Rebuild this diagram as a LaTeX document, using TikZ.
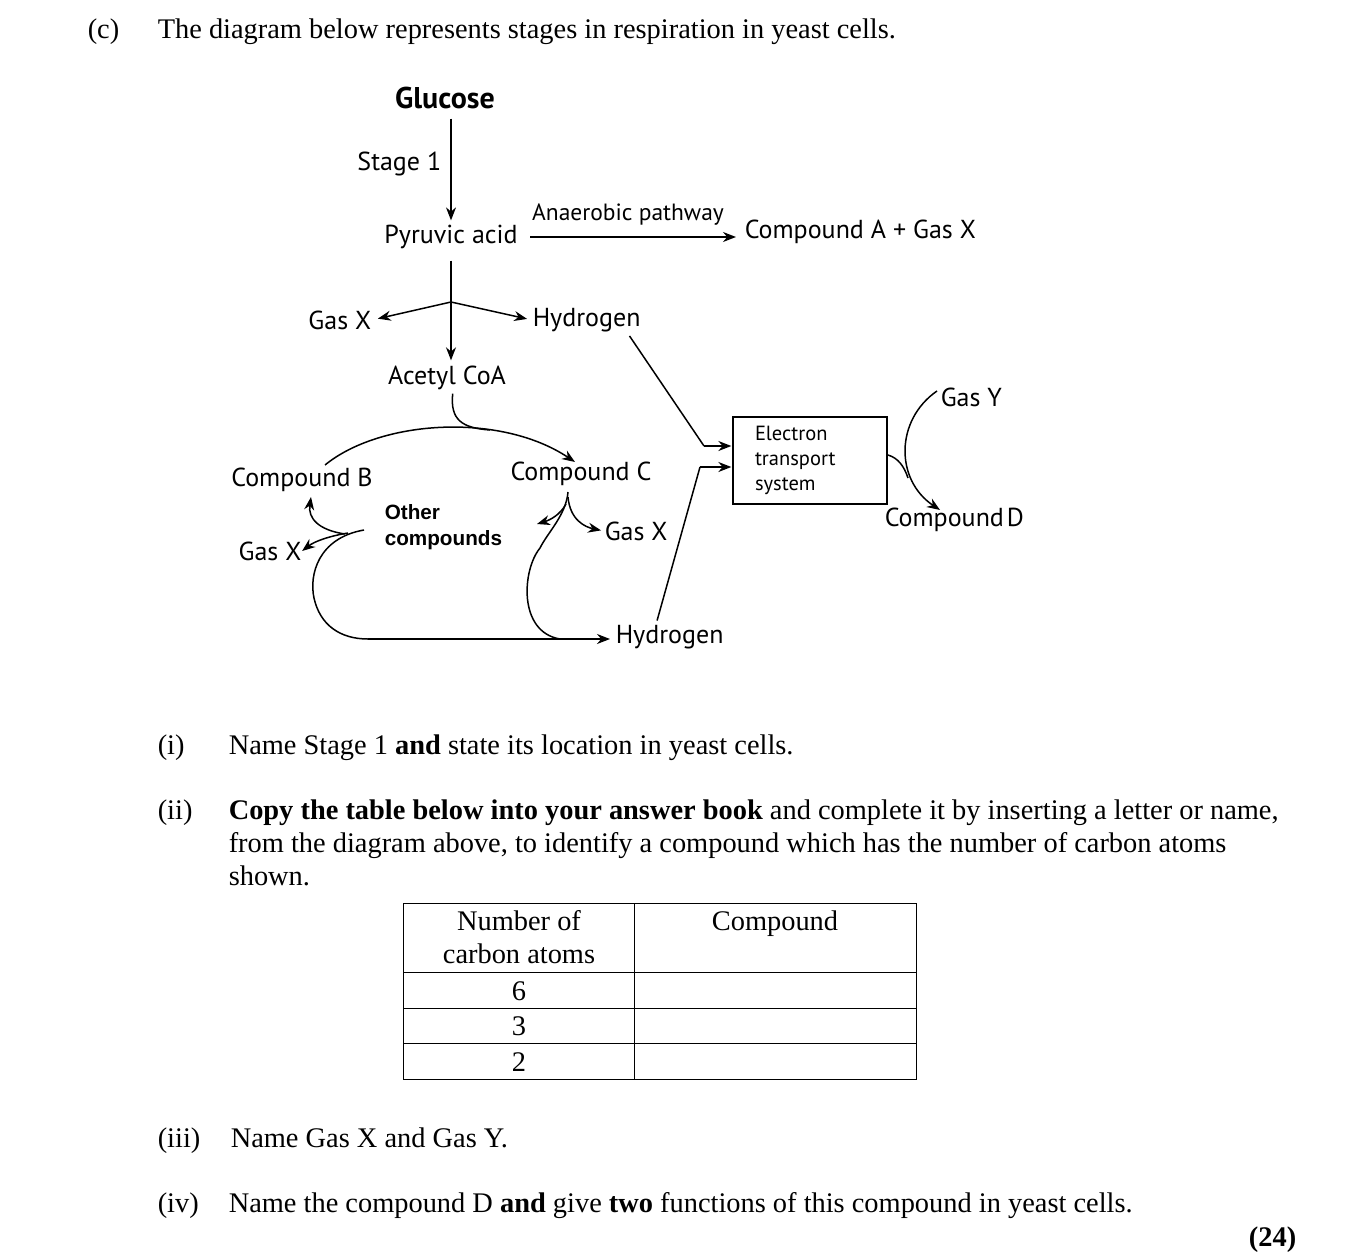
\documentclass[tikz,border=0pt]{standalone}
\usepackage{fontspec}
\setmainfont{Liberation Serif}
\newfontfamily\dsans{PT Sans}
\newfontfamily\arialf{Liberation Sans}
\usetikzlibrary{arrows.meta}
\begin{document}
\begin{tikzpicture}[x=1pt,y=-1pt,line width=1.5pt,
  arr/.style={-{Stealth[length=13pt,width=10pt]}},
  dlab/.style={font=\dsans\fontsize{26}{30}\selectfont,inner sep=0pt},
  qtext/.style={font=\fontsize{28.4}{33}\selectfont,inner sep=0pt,anchor=base west},
  tline/.style={line width=0.9pt}]
\useasboundingbox (0,0) rectangle (1359,1255);

% header
\node[qtext] (qc) at (87,39) {(c)};
\node[qtext] (qct) at (157,39) {The diagram below represents stages in respiration in yeast cells.};

% diagram nodes
\node[dlab,font=\dsans\bfseries\fontsize{30}{32}\selectfont] (glu) at (445,98) {Glucose};
\node[dlab,anchor=east] (st1) at (442,164) {Stage 1};
\node[dlab] (pyr) at (451,237) {Pyruvic acid};
\node[dlab,font=\dsans\fontsize{23.5}{26}\selectfont] (anaer) at (628,215) {Anaerobic pathway};
\node[dlab,anchor=west] (compA) at (744,232) {Compound A + Gas X};
\node[dlab,anchor=east] (gasx1) at (372,320) {Gas X};
\node[dlab,anchor=west] (hyd1) at (532,320) {Hydrogen};
\node[dlab] (acet) at (447,378) {Acetyl CoA};
\node[dlab] (compB) at (302,480) {Compound B};
\node[dlab] (compC) at (581,474) {Compound C};
\node[inner sep=0pt,anchor=west,align=left,font=\arialf\bfseries\fontsize{20.7}{26}\selectfont] (oth) at (384,527) {Other\\compounds};
\node[dlab] (gasx2) at (270,551) {Gas X};
\node[dlab,anchor=west] (gasx3) at (604,531) {Gas X};
\node[dlab,anchor=west] (hyd2) at (615,637) {Hydrogen};
\node[draw,line width=1.3pt,align=left,text width=110pt,inner xsep=22pt,inner ysep=0pt,
      minimum height=87pt,font=\dsans\fontsize{20.5}{25}\selectfont] (ets) at (810,460.5) {Electron\\transport\\system};
\node[dlab,anchor=west] (gasy) at (940,397) {Gas Y};
\node[dlab,anchor=west] (compD) at (884,520) {Compound\hspace{3pt}D};

% named points
\coordinate (br) at (451,302);
\coordinate (b1) at (704,446);
\coordinate (b2) at (700,467);
\coordinate (join) at (490,430);
\coordinate (S) at (364,530);
\coordinate (cbtip) at (311,497);
\coordinate (ccp) at (568,492);
\coordinate (cctip) at (537,524);
\coordinate (dtip) at (940,510);
\coordinate (bl) at (368,639);
\coordinate (etsout) at (888,455);

% connectors
\draw[arr,shorten <=9pt,shorten >=4pt] (glu.south -| pyr) -- (pyr.north);
\draw[arr,shorten <=12pt,shorten >=8pt] (pyr.east) -- (pyr.east -| compA.west);
\draw[shorten <=11pt] (pyr.south) -- (br);
\draw[arr,shorten >=5pt] (br) -- (acet.north -| br);
\draw[arr,shorten >=6pt] (br) -- (gasx1.east);
\draw[arr,shorten >=5pt] (br) -- (hyd1.west);
\draw[shorten <=4pt] ([xshift=-14pt]hyd1.south east) -- (b1);
\draw[arr,shorten >=1pt] (b1) -- (b1 -| ets.west);
\draw[shorten <=4pt] ([xshift=41pt]hyd2.north west) -- (b2);
\draw[arr,shorten >=1pt] (b2) -- (b2 -| ets.west);

% Krebs cycle
\draw[shorten <=3pt] (acet.south -| 453,0) .. controls (450,420) and (462,428) .. (join);
\draw[arr] (325,465) .. controls (380,420) and (500,412) .. (575,462);
\draw (S) .. controls (318,538) and (309,575) .. (314,598) .. controls (320,625) and (340,639) .. (bl);
\draw[arr,shorten >=5pt] (bl) -- (hyd2.west |- bl);
\draw[arr] (345,534) .. controls (318,530) and (308,518) .. (cbtip);
\draw[arr] (348,533) .. controls (330,536) and (315,541) .. (gasx2.east);
\draw (ccp) .. controls (566,515) and (548,532) .. (540,548) .. controls (522,570) and (518,632) .. (560,639);
\draw[arr] (566,504) .. controls (560,515) and (550,520) .. (cctip);
\draw[arr,shorten >=3pt] (568,497) .. controls (570,520) and (585,527) .. (gasx3.west);

% ETS outputs
\draw[arr] ([xshift=-3pt,yshift=6pt]gasy.west) .. controls (895,420) and (895,480) .. (dtip);
\draw (etsout) .. controls (898,458) and (904,466) .. (908,478);

% questions
\node[qtext] (qi) at (157,754) {(i)};
\node[qtext] (qit) at (228,754) {Name Stage 1 \textbf{and} state its location in yeast cells.};
\node[qtext] (qii) at (157,819) {(ii)};
\node[qtext] (qiit1) at (228,819) {\textbf{Copy the table below into your answer book} and complete it by inserting a letter or name,};
\node[qtext] (qiit2) at (228,852) {from the diagram above, to identify a compound which has the number of carbon atoms};
\node[qtext] (qiit3) at (228,885) {shown.};

% table
\draw[tline] (403,903) rectangle (916,1079);
\draw[tline] (634,903) -- (634,1079);
\draw[tline] (403,972) -- (916,972);
\draw[tline] (403,1008) -- (916,1008);
\draw[tline] (403,1043) -- (916,1043);
\node[qtext,anchor=base] (th1a) at (519,930) {Number of};
\node[qtext,anchor=base] (th1b) at (519,963) {carbon atoms};
\node[qtext,anchor=base] (th2) at (775,930) {Compound};
\node[qtext,anchor=base] (r6) at (519,1000) {6};
\node[qtext,anchor=base] (r3) at (519,1035) {3};
\node[qtext,anchor=base] (r2) at (519,1071) {2};

\node[qtext] (qiii) at (157,1147) {(iii)};
\node[qtext] (qiiit) at (230,1147) {Name Gas X and Gas Y.};
\node[qtext] (qiv) at (157,1212) {(iv)};
\node[qtext] (qivt) at (228,1212) {Name the compound D \textbf{and} give \textbf{two} functions of this compound in yeast cells.};
\node[qtext,anchor=base east] (marks) at (1297,1246) {\textbf{(24)}};
\end{tikzpicture}
\end{document}
